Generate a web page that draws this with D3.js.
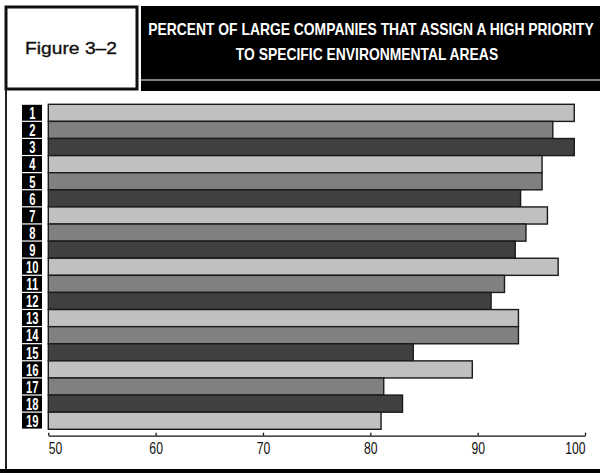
<!DOCTYPE html>
<html>
<head>
<meta charset="utf-8">
<script src="https://cdn.jsdelivr.net/npm/d3@7"></script>
<style>
  html, body { margin: 0; padding: 0; background: #fff; }
  svg { display: block; }
</style>
</head>
<body>
<svg id="chart" width="600" height="473"></svg>
<script>
// Environmental areas, numbered 1–19
const categories = ["1","2","3","4","5","6","7","8","9","10","11","12","13","14","15","16","17","18","19"];
// Percent of large companies assigning a high priority to each area
const values = [99, 97, 99, 96, 96, 94, 96.5, 94.5, 93.5, 97.5, 92.5, 91.25, 93.8, 93.8, 84, 89.5, 81.25, 83, 81];
const tickValues = [50, 60, 70, 80, 90, 100];
const shades = ["#c0c0c0", "#808080", "#404040"];
const figureLabel = "Figure 3\u20132";
const titleLines = ["PERCENT OF LARGE COMPANIES THAT ASSIGN A HIGH PRIORITY", "TO SPECIFIC ENVIRONMENTAL AREAS"];

const svg = d3.select("#chart");
const W = 600, H = 473;
const SANS = "Liberation Sans, Arial, sans-serif";

// squeeze a text horizontally by factor k, centred on cx
function squeeze(sel, cx, baseY, k) {
  sel.attr("x", 0).attr("y", 0).attr("text-anchor", "middle")
    .attr("transform", `translate(${cx},${baseY}) scale(${k},1)`);
}

// ---- header ----
svg.append("rect").attr("x", 6).attr("y", 7).attr("width", 131).attr("height", 82)
  .attr("fill", "#fff").attr("stroke", "#111").attr("stroke-width", 3);
const fig = svg.append("text")
  .attr("font-family", SANS).attr("font-size", 17)
  .attr("fill", "#111").attr("stroke", "#111").attr("stroke-width", 0.35)
  .text(figureLabel);
squeeze(fig, 71, 54, 92 / fig.node().getComputedTextLength());

svg.append("rect").attr("x", 141).attr("y", 6).attr("width", W - 141).attr("height", 85).attr("fill", "#000");
svg.append("line").attr("x1", 141).attr("x2", W).attr("y1", 80).attr("y2", 80)
  .attr("stroke", "#fff").attr("stroke-width", 1.2);

// both title lines share one condensing factor, set by the first line's span
const titleTexts = titleLines.map(t => svg.append("text")
  .attr("font-family", SANS).attr("font-size", 16.5).attr("font-weight", "bold")
  .attr("fill", "#fff").text(t));
const kTitle = 446 / titleTexts[0].node().getComputedTextLength();
squeeze(titleTexts[0], 371, 34.5, kTitle);
squeeze(titleTexts[1], 367, 59.5, kTitle);

// ---- frame ----
svg.append("line").attr("x1", 6).attr("x2", 6).attr("y1", 89).attr("y2", H)
  .attr("stroke", "#222").attr("stroke-width", 2);
svg.append("rect").attr("x", 0).attr("y", 469).attr("width", W).attr("height", 4).attr("fill", "#000");

// ---- scales ----
const x = d3.scaleLinear().domain([50, 100]).range([48.3, 585]);
const y = d3.scaleBand().domain(categories).range([104.3, 429.3]).padding(0);

// ---- bars ----
svg.append("g").selectAll("rect").data(categories).join("rect")
  .attr("x", x(50))
  .attr("y", d => y(d))
  .attr("width", (d, i) => x(values[i]) - x(50))
  .attr("height", y.bandwidth())
  .attr("fill", (d, i) => shades[i % 3])
  .attr("stroke", "#1a1a1a").attr("stroke-width", 1.4);

// ---- row number labels (condensed white numerals on black) ----
const lab = svg.append("g");
lab.selectAll("rect").data(categories).join("rect")
  .attr("x", 22).attr("y", d => y(d) + 0.5)
  .attr("width", 20).attr("height", y.bandwidth() - 1.2)
  .attr("fill", "#000");
lab.selectAll("text").data(categories).join("text")
  .attr("transform", d => `translate(32.3,${y(d) + y.bandwidth() - 2.3}) scale(0.66,1)`)
  .attr("text-anchor", "middle")
  .attr("font-family", SANS).attr("font-size", 17).attr("font-weight", "bold")
  .attr("fill", "#fff").text(d => d);

// ---- x axis ----
const axis = d3.axisBottom(x).tickValues(tickValues).tickSizeInner(-3).tickSizeOuter(0).tickPadding(0);
const ax = svg.append("g").attr("transform", "translate(0,435.7)").call(axis);
ax.select(".domain").attr("stroke", "#111").attr("stroke-width", 1.3);
ax.selectAll(".tick line").attr("stroke", "#111").attr("stroke-width", 1.3);
ax.selectAll(".tick text")
  .attr("y", null).attr("dy", null)
  .attr("transform", "translate(0,18.5) scale(0.76,1)")
  .attr("font-family", SANS).attr("font-size", 16)
  .attr("fill", "#111")
  .attr("text-anchor", (d, i) => i === 0 ? "start" : (i === tickValues.length - 1 ? "end" : "middle"));
</script>
</body>
</html>
